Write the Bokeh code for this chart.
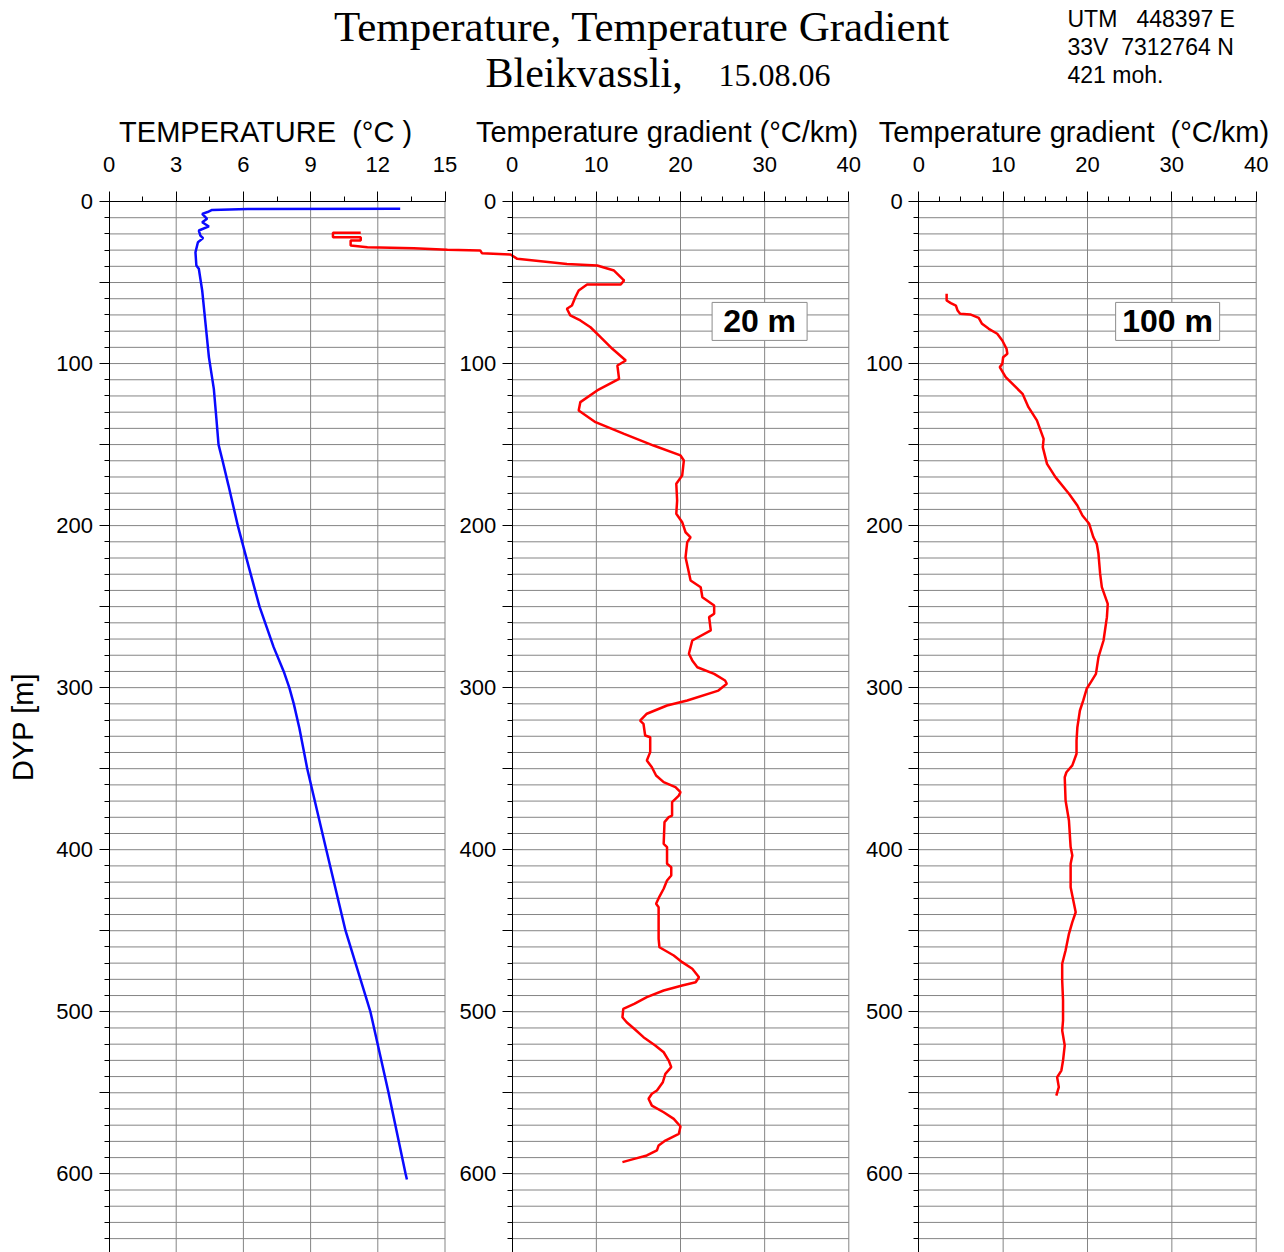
from bokeh.plotting import figure
from bokeh.models import Range1d, LinearAxis, FixedTicker
from bokeh.core.properties import value
from bokeh.embed import file_html
from bokeh.resources import INLINE

NB = "\u00a0"  # non-breaking space keeps double spacing in SVG text

# ---------------------------------------------------------------- data
# temperature log (depth in m, temperature in degC)
temp_depth = [4.5, 4.6, 5.2, 6.5, 7.6, 10.7, 12.8, 15.4, 17.9, 21.0, 22.6, 25.1,
              31.3, 39.5, 41.5, 54.9, 75.5, 96.0, 115.6, 135.0, 150.0, 160.0, 175.0,
              200.0, 225.0, 250.0, 275.0, 290.0, 300.0, 310.0, 325.0, 350.0, 400.0,
              450.0, 490.0, 500.0, 550.0, 600.0, 603.5]
temp_c = [13.0, 6.2, 4.6, 4.4, 4.16, 4.38, 4.16, 4.46, 4.01, 4.08, 4.2, 3.97,
          3.86, 3.9, 4.01, 4.16, 4.31, 4.46, 4.68, 4.8, 4.89, 5.07, 5.33,
          5.75, 6.23, 6.72, 7.35, 7.8, 8.05, 8.25, 8.5, 8.85, 9.7,
          10.56, 11.45, 11.67, 12.48, 13.24, 13.3]

# temperature gradient, 20 m window (degC/km)
grad20_depth = [19.3, 19.3, 22.0, 22.0, 24.1, 24.1, 27.2, 28.2, 28.8, 29.8, 30.2, 31.9,
                32.7, 35.4, 38.5, 39.5, 42.6, 47.7, 48.7, 51.2, 51.2, 54.9, 59.1, 64.2,
                66.2, 70.3, 73.4, 77.6, 83.7, 90.9, 98.1, 101.2, 109.4, 116.6, 123.8,
                129.0, 136.2, 143.4, 150.6, 156.7, 159.8, 169.1, 174.2, 184.5, 192.7,
                197.9, 204.1, 207.2, 210.2, 219.5, 233.9, 238.0, 244.2, 249.3, 254.4,
                256.5, 264.7, 270.9, 279.1, 283.2, 287.4, 291.5, 295.6, 297.6, 301.8,
                307.9, 311.0, 316.1, 320.3, 322.3, 329.5, 330.6, 339.8, 345.0, 349.1,
                354.2, 358.3, 361.4, 364.5, 366.6, 370.7, 378.9, 379.9, 383.0, 396.4,
                398.4, 408.7, 410.8, 415.9, 419.0, 424.1, 428.9, 433.4, 435.5, 455.0,
                460.2, 465.3, 469.4, 473.5, 478.7, 481.8, 483.8, 486.9, 491.0, 495.1,
                498.2, 503.4, 506.5, 510.5, 515.7, 520.8, 525.0, 530.1, 534.2, 538.3,
                543.5, 548.6, 550.6, 553.7, 557.9, 562.0, 566.1, 570.8, 575.3, 579.5,
                582.5, 585.6, 588.7, 590.8, 592.8]
grad20 = [-18.0, -21.3, -21.3, -18.0, -18.0, -19.2, -19.2, -17.2, -11.7, -7.7, -3.8, -3.6,
          -0.2, 0.6, 6.5, 10.1, 12.1, 13.1, 13.3, 12.9, 8.9, 7.9, 7.5, 7.1,
          6.5, 6.9, 8.1, 9.3, 10.5, 11.9, 13.5, 12.5, 12.7, 10.1, 8.1,
          7.9, 9.9, 13.3, 16.8, 20.0, 20.4, 20.2, 19.5, 19.6, 19.5,
          20.2, 20.6, 21.2, 20.8, 20.6, 21.2, 22.4, 22.6, 24.0, 24.0,
          23.4, 23.6, 21.4, 21.0, 21.4, 22.0, 24.0, 25.3, 25.5, 24.5,
          20.8, 18.4, 16.0, 15.2, 15.6, 15.8, 16.4, 16.4, 16.0, 16.6,
          17.1, 18.0, 19.4, 20.0, 19.8, 19.0, 19.0, 18.6, 18.1, 18.0,
          18.4, 18.4, 18.9, 18.9, 18.4, 18.0, 17.5, 17.1, 17.4, 17.4,
          17.5, 19.2, 20.2, 21.4, 22.2, 21.8, 20.2, 18.0, 16.0, 14.5,
          13.2, 13.1, 13.6, 14.5, 15.6, 17.0, 18.0, 18.6, 18.9, 18.2,
          17.9, 17.2, 16.6, 16.2, 16.6, 18.0, 19.2, 20.0, 19.8, 18.2,
          17.4, 17.2, 16.0, 14.5, 13.1]

# temperature gradient, 100 m window (degC/km)
grad100_depth = [57.0, 61.1, 62.7, 64.2, 67.3, 69.3, 69.7, 71.8, 75.5, 78.6, 81.6, 85.8,
                 90.9, 94.0, 96.1, 100.2, 102.2, 108.4, 118.7, 126.9, 135.1, 146.5,
                 151.6, 161.9, 170.1, 180.4, 187.6, 193.8, 198.9, 207.2, 211.3, 217.4,
                 229.8, 238.0, 248.3, 256.5, 270.9, 281.2, 291.5, 296.6, 300.7, 307.9,
                 314.1, 324.4, 332.6, 340.8, 348.0, 352.2, 355.3, 369.6, 382.0, 398.4,
                 403.6, 408.7, 423.1, 438.6, 444.7, 451.9, 462.2, 470.4, 480.7, 493.1,
                 505.4, 511.6, 520.8, 530.1, 536.3, 540.4, 546.5, 551.7]
grad100 = [3.3, 3.3, 3.8, 4.4, 4.6, 4.9, 6.1, 7.1, 7.5, 8.3, 9.3, 9.9,
           10.4, 10.5, 10.0, 9.9, 9.6, 10.3, 12.3, 13.0, 14.0, 14.8,
           14.7, 15.2, 16.2, 17.8, 18.8, 19.4, 20.2, 20.7, 21.1, 21.3,
           21.5, 21.7, 22.4, 22.3, 21.9, 21.3, 21.0, 20.4, 19.9, 19.5,
           19.1, 18.8, 18.7, 18.7, 18.2, 17.5, 17.3, 17.4, 17.8, 18.0,
           18.2, 18.0, 18.0, 18.6, 18.2, 17.8, 17.4, 17.0, 17.0, 17.1,
           17.1, 17.0, 17.3, 17.1, 16.9, 16.4, 16.6, 16.3]

# ticks
depth_major = [0, 50, 100, 150, 200, 250, 300, 350, 400, 450, 500, 550, 600]
depth_minor = list(range(0, 641, 10))
temp_ticks = [0, 3, 6, 9, 12, 15]
temp_minor = [0, 1.5, 3, 4.5, 6, 7.5, 9, 10.5, 12, 13.5, 15]
grad_ticks = [0, 10, 20, 30, 40]
grad_minor = [0, 2.5, 5, 7.5, 10, 12.5, 15, 17.5, 20, 22.5, 25, 27.5, 30, 32.5, 35, 37.5, 40]

# ---------------------------------------------------------------- layout
W, H = 1284, 1252
Y0, PX_PER_M = 201.0, 1.6205          # depth 0 position, pixels per metre
X0_T, PX_PER_C = 108.5, 22.4          # temperature panel
X0_G20, PX_PER_G20 = 511.7, 8.415     # 20 m gradient panel
X0_G100, PX_PER_G100 = 918.3, 8.435   # 100 m gradient panel

DEPTH_BOTTOM = (H - Y0) / PX_PER_M
DEPTH_TOP = -Y0 / PX_PER_M

SANS = "Liberation Sans"
SERIF = "Liberation Serif"
GRID = "#858585"

p = figure(width=W, height=H, output_backend="svg", toolbar_location=None,
           x_range=Range1d(-X0_T / PX_PER_C, (W - X0_T) / PX_PER_C),
           y_range=Range1d(DEPTH_BOTTOM, DEPTH_TOP),
           x_axis_type=None, y_axis_type=None, min_border=0,
           outline_line_color=None, background_fill_color="white",
           border_fill_color="white")
p.extra_x_ranges = {
    "g20": Range1d(-X0_G20 / PX_PER_G20, (W - X0_G20) / PX_PER_G20),
    "g100": Range1d(-X0_G100 / PX_PER_G100, (W - X0_G100) / PX_PER_G100),
}

# (range name, axis end, major ticks, minor ticks, title, title centre)
panels = [
    ("default", 15, temp_ticks, temp_minor, f"TEMPERATURE{NB}{NB}(°C )", 6.99),
    ("g20", 40, grad_ticks, grad_minor, "Temperature gradient (°C/km)", 18.4),
    ("g100", 40, grad_ticks, grad_minor, f"Temperature gradient{NB}{NB}(°C/km)", 18.4),
]
TITLE_DEPTH = -42.6

rows = depth_minor[1:]
for name, xmax, ticks, minor, title, title_x in panels:
    # grid: vertical lines at the major ticks, horizontal every 10 m
    vx = ticks[1:]
    p.segment(x0=vx, y0=[0] * len(vx), x1=vx, y1=[DEPTH_BOTTOM] * len(vx),
              x_range_name=name, line_color=GRID, line_width=1)
    p.segment(x0=[0] * len(rows), y0=rows, x1=[xmax] * len(rows), y1=rows,
              x_range_name=name, line_color=GRID, line_width=1)

    top = LinearAxis(x_range_name=name, fixed_location=0, bounds=(0, xmax),
                     ticker=FixedTicker(ticks=ticks, minor_ticks=minor))
    left = LinearAxis(x_range_name=name, fixed_location=0, bounds=(0, DEPTH_BOTTOM),
                      ticker=FixedTicker(ticks=depth_major, minor_ticks=depth_minor),
                      major_label_overrides={d: "" for d in depth_major if d % 100})
    for ax in (top, left):
        ax.axis_line_color = "black"
        ax.major_tick_line_color = "black"
        ax.minor_tick_line_color = "black"
        ax.major_tick_in = 0
        ax.minor_tick_in = 0
        ax.major_tick_out = 10
        ax.minor_tick_out = 5
        ax.major_label_text_font = SANS
        ax.major_label_text_font_size = "22px"
        ax.major_label_text_color = "black"
        ax.major_label_standoff = 6
        ax.axis_label_text_font = SANS
        ax.axis_label_text_font_size = "29px"
        ax.axis_label_text_font_style = "normal"
        ax.axis_label_text_color = "black"
    top.major_label_standoff = 20
    if name == "default":
        left.axis_label = "DYP [m]"
        left.axis_label_standoff = 15
    p.add_layout(top, "above")
    p.add_layout(left, "left")

    # panel title above the top axis
    p.text(x=[title_x], y=[TITLE_DEPTH], text=[title], x_range_name=name,
           text_font=value(SANS), text_font_size=value("29px"),
           text_align="center", text_baseline="middle", text_color="black")

# curves
p.line(temp_c, temp_depth, line_color="#0a0aff", line_width=2.5)
p.line(grad20, grad20_depth, x_range_name="g20", line_color="#ff0000", line_width=2.5)
p.line(grad100, grad100_depth, x_range_name="g100", line_color="#ff0000", line_width=2.5)

# window-length boxes
p.rect(x=[29.4], y=[74], width=95, height=38, width_units="screen", height_units="screen",
       x_range_name="g20", fill_color="white", line_color="#8c8c8c", line_width=1)
p.text(x=[29.4], y=[74], text=["20 m"], x_range_name="g20",
       text_font=value(SANS), text_font_size=value("32px"), text_font_style="bold",
       text_align="center", text_baseline="middle", text_color="black")
p.rect(x=[29.5], y=[74], width=104, height=38, width_units="screen", height_units="screen",
       x_range_name="g100", fill_color="white", line_color="#8c8c8c", line_width=1)
p.text(x=[29.5], y=[74], text=["100 m"], x_range_name="g100",
       text_font=value(SANS), text_font_size=value("32px"), text_font_style="bold",
       text_align="center", text_baseline="middle", text_color="black")

# header
p.text(x=[23.79], y=[-108.0], text=["Temperature, Temperature Gradient"],
       text_font=value(SERIF), text_font_size=value("43px"),
       text_align="center", text_baseline="alphabetic", text_color="black")
p.text(x=[16.81], y=[-79.0], text=["Bleikvassli,"],
       text_font=value(SERIF), text_font_size=value("42px"),
       text_align="left", text_baseline="alphabetic", text_color="black")
p.text(x=[27.21], y=[-78.0], text=["15.08.06"],
       text_font=value(SERIF), text_font_size=value("32px"),
       text_align="left", text_baseline="alphabetic", text_color="black")
p.text(x=[42.79] * 3, y=[-112.4, -95.1, -77.8],
       text=[f"UTM{NB}{NB}{NB}448397 E", f"33V{NB}{NB}7312764 N", "421 moh."],
       text_font=value(SANS), text_font_size=value("23px"),
       text_align="left", text_baseline="alphabetic", text_color="black")

open("out.html", "w").write(file_html(p, INLINE))
